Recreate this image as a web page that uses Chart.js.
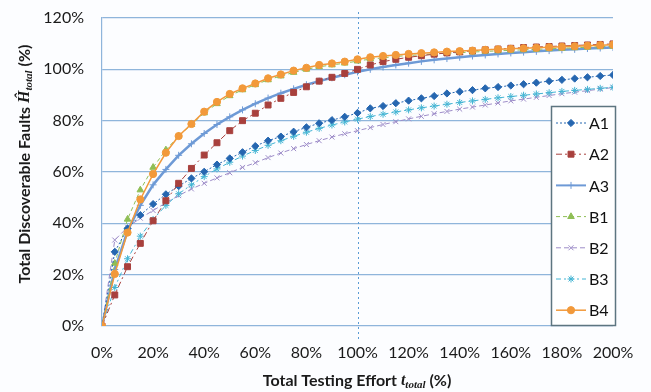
<!DOCTYPE html>
<html>
<head>
<meta charset="utf-8">
<script src="https://cdn.jsdelivr.net/npm/chart.js@4/dist/chart.umd.min.js"></script>
<style>
  html, body { margin: 0; padding: 0; background: #fcfdff; }
  canvas { display: block; }
</style>
</head>
<body>
<canvas id="faultsChart" width="651" height="392"></canvas>
<script>
// Testing effort (%) on the x axis
var effort = [0, 5, 10, 15, 20, 25, 30, 35, 40, 45, 50, 55, 60, 65, 70, 75, 80, 85, 90, 95, 100,
  105, 110, 115, 120, 125, 130, 135, 140, 145, 150, 155, 160, 165, 170, 175, 180, 185, 190, 195, 200];

// Total discoverable faults (%) per model
var seriesA1 = [0, 28.9, 38, 43.2, 47.5, 51.3, 54.5, 57.5, 60.1, 62.9, 65.3, 67.7, 70.1, 72.2, 73.8, 75.7, 77.4, 79, 80.2, 81.5, 83,
  84.8, 85.7, 86.8, 87.8, 88.7, 89.6, 90.6, 91.3, 91.9, 92.6, 93.1, 93.7, 94.2, 94.8, 95.4, 95.9, 96.4, 96.9, 97.4, 97.8];
var seriesA2 = [0, 12.1, 23.1, 32.2, 41, 48.8, 55.6, 61.4, 66.6, 71.4, 76.1, 80, 82.9, 86.1, 88.7, 91, 93.2, 95.4, 96.9, 98.4, 100,
  101.7, 103, 103.9, 104.7, 105.3, 105.9, 106.4, 106.8, 107.2, 107.6, 107.9, 108.2, 108.5, 108.7, 108.9, 109.1, 109.3, 109.5, 109.7, 109.9];
var seriesA3 = [0, 22, 37, 47, 55, 61, 66.5, 71, 75, 78.5, 81.5, 84.2, 86.6, 88.8, 90.7, 92.4, 94, 95.4, 96.7, 97.9, 99,
  100, 100.9, 101.7, 102.4, 103.1, 103.7, 104.2, 104.7, 105.2, 105.6, 106, 106.4, 106.7, 107, 107.3, 107.6, 107.8, 108.1, 108.3, 108.5];
var seriesB1 = [0, 24.4, 41.6, 53, 61.8, 68.6, 74, 78.5, 83, 86.6, 89.7, 92, 94, 95.9, 97.4, 98.8, 100, 101, 101.7, 102.4, 103.2,
  104, 104.5, 105, 105.4, 105.7, 106, 106.3, 106.5, 106.7, 107, 107.2, 107.4, 107.6, 107.8, 108, 108.2, 108.4, 108.6, 108.8, 109];
var seriesB2 = [0, 33.5, 38.5, 42, 45, 48, 50.8, 53.4, 55.6, 57.7, 59.7, 61.8, 63.6, 65.6, 67.4, 69.1, 70.7, 72.2, 73.6, 74.9, 76.1,
  77.3, 78.5, 79.6, 80.7, 81.7, 82.7, 83.6, 84.5, 85.3, 86.1, 86.9, 87.7, 88.4, 89.1, 89.8, 90.5, 91.1, 91.7, 92.3, 92.9];
var seriesB3 = [0, 15, 26.2, 35, 41.5, 47, 51.5, 55, 58.2, 61.2, 63.8, 66.2, 68.4, 70.4, 72.2, 73.9, 75.5, 77, 78.3, 79.5, 80.6,
  81.6, 82.5, 83.4, 84.2, 85, 85.7, 86.4, 87.1, 87.7, 88.3, 88.9, 89.4, 89.9, 90.4, 90.9, 91.4, 91.8, 92.2, 92.6, 93];
var seriesB4 = [0, 20.3, 36.4, 49.3, 59.2, 67.5, 74, 78.7, 83.5, 87.3, 90.4, 92.6, 94.5, 96.5, 98, 99.5, 100.6, 101.7, 102.3, 103, 103.9,
  104.7, 105.2, 105.6, 106, 106.3, 106.6, 106.9, 107.1, 107.3, 107.6, 107.8, 108, 108.2, 108.4, 108.6, 108.8, 109, 109.2, 109.4, 109.6];

var seriesNames = ["A1", "A2", "A3", "B1", "B2", "B3", "B4"];
var refEffort = 100; // dotted marker line at 100% effort

var FONT = "Lato, 'Open Sans', sans-serif";
var gridBlue = "#8fb5db";

function toPoints(values) {
  return values.map(function (v, i) { return { x: effort[i], y: v }; });
}

function makeSet(name, values, color, style, radius, dash, width, order) {
  return {
    label: name,
    data: toPoints(values),
    borderColor: color,
    backgroundColor: color,
    borderWidth: width,
    borderDash: dash,
    pointStyle: style,
    pointRadius: radius,
    pointHoverRadius: radius,
    pointBorderWidth: 1,
    pointBackgroundColor: color,
    pointBorderColor: color,
    tension: 0,
    order: order,
  };
}

var datasets = [
  makeSet(seriesNames[0], seriesA1, "#2566b0", "rectRot", 3.6, [2, 2], 1, 2),
  makeSet(seriesNames[1], seriesA2, "#a8403d", "rect", 4.2, [6, 3, 2, 3], 1, 1),
  makeSet(seriesNames[2], seriesA3, "#6e9ad6", "cross", 3.5, [], 2.5, 4),
  makeSet(seriesNames[3], seriesB1, "#8fbe55", "triangle", 3.8, [4, 3], 1, 3),
  makeSet(seriesNames[4], seriesB2, "#9d8cc8", "crossRot", 3.5, [5, 3], 1, 6),
  makeSet(seriesNames[5], seriesB3, "#43b4d3", "star", 3.5, [5, 3, 2, 3], 1, 5),
  makeSet(seriesNames[6], seriesB4, "#f2993a", "circle", 3.6, [], 1.5, 0),
];

// dotted vertical line at 100% effort
var refLinePlugin = {
  id: "refLine",
  beforeDatasetsDraw: function (chart) {
    var ctx = chart.ctx;
    var x = Math.round(chart.scales.x.getPixelForValue(refEffort)) + 0.5;
    ctx.save();
    ctx.strokeStyle = "#5b9bd5";
    ctx.lineWidth = 1;
    ctx.setLineDash([2, 3]);
    ctx.beginPath();
    ctx.moveTo(x, chart.chartArea.top - 6);
    ctx.lineTo(x, chart.chartArea.bottom + 14);
    ctx.stroke();
    ctx.restore();
  },
};

// axis titles with italic subscripts
function drawRichText(ctx, parts, cx, cy) {
  var total = 0;
  parts.forEach(function (p) { ctx.font = p.font; total += ctx.measureText(p.text).width; });
  var x = cx - total / 2;
  parts.forEach(function (p) {
    ctx.font = p.font;
    ctx.fillText(p.text, x, cy + (p.dy || 0));
    x += ctx.measureText(p.text).width;
  });
}

var titlesPlugin = {
  id: "axisTitles",
  afterDraw: function (chart) {
    var ctx = chart.ctx;
    ctx.save();
    ctx.fillStyle = "#1a1a1a";
    ctx.textBaseline = "middle";
    ctx.textAlign = "left";
    var bold = "bold 16px " + FONT;
    var ital = "italic bold 16px 'Liberation Serif', serif";
    var sub = "italic bold 11px 'Liberation Serif', serif";
    drawRichText(ctx, [
      { text: "Total Testing Effort ", font: bold },
      { text: "t", font: ital },
      { text: "total", font: sub, dy: 4 },
      { text: " (%)", font: bold },
    ], 357, 381);
    ctx.translate(25, 164);
    ctx.rotate(-Math.PI / 2);
    drawRichText(ctx, [
      { text: "Total Discoverable Faults ", font: bold },
      { text: "\u0124", font: ital },
      { text: "total", font: sub, dy: 4 },
      { text: " (%)", font: bold },
    ], 0, 0);
    ctx.restore();
  },
};

// boxed legend sitting inside the plot area
var legendPlugin = {
  id: "boxLegend",
  afterDraw: function (chart) {
    var ctx = chart.ctx;
    var bx = 551, by = 106, bw = 64, bh = 219;
    ctx.save();
    ctx.fillStyle = "#ffffff";
    ctx.fillRect(bx, by, bw, bh);
    ctx.strokeStyle = "#5d7580";
    ctx.lineWidth = 1.5;
    ctx.strokeRect(bx + 0.5, by + 0.5, bw, bh);
    chart.data.datasets.forEach(function (ds, i) {
      var y = by + 17 + i * 31.2;
      ctx.strokeStyle = ds.borderColor;
      ctx.lineWidth = Math.min(ds.borderWidth, 2);
      ctx.setLineDash(ds.borderDash);
      ctx.beginPath();
      ctx.moveTo(bx + 5, y);
      ctx.lineTo(bx + 35, y);
      ctx.stroke();
      ctx.setLineDash([]);
      ctx.fillStyle = ds.pointBackgroundColor;
      ctx.lineWidth = 1;
      Chart.helpers.drawPoint(ctx, { pointStyle: ds.pointStyle, radius: ds.pointRadius, rotation: 0, borderWidth: 1 }, bx + 20, y);
      ctx.fillStyle = "#111111";
      ctx.font = "16px " + FONT;
      ctx.textBaseline = "middle";
      ctx.fillText(ds.label, bx + 38, y + 1);
    });
    ctx.restore();
  },
};

var ctxFaults = document.getElementById("faultsChart").getContext("2d");
new Chart(ctxFaults, {
  type: "line",
  data: { datasets: datasets },
  options: {
    responsive: false,
    animation: false,
    layout: { padding: { left: 42, right: 38, top: 18, bottom: 26 } },
    plugins: {
      legend: { display: false },
      tooltip: { enabled: false },
    },
    scales: {
      x: {
        type: "linear",
        min: 0,
        max: 200,
        ticks: {
          stepSize: 20,
          padding: 17,
          color: "#1a1a1a",
          font: { family: FONT, size: 16 },
          callback: function (v) { return v + "%"; },
        },
        grid: { display: false, drawTicks: false },
        border: { display: false },
        afterFit: function (scale) { scale.height = 40; },
      },
      y: {
        min: 0,
        max: 120,
        ticks: {
          stepSize: 20,
          padding: 18,
          color: "#1a1a1a",
          font: { family: FONT, size: 16 },
          callback: function (v) { return v + "%"; },
        },
        grid: { color: gridBlue, lineWidth: 1.2, drawTicks: false },
        border: { display: true, color: gridBlue, width: 1.2 },
        afterFit: function (scale) {
          scale.width = 60;
          scale.paddingTop = 0;
          scale.paddingBottom = 0;
        },
      },
    },
  },
  plugins: [refLinePlugin, titlesPlugin, legendPlugin],
});
</script>
</body>
</html>
